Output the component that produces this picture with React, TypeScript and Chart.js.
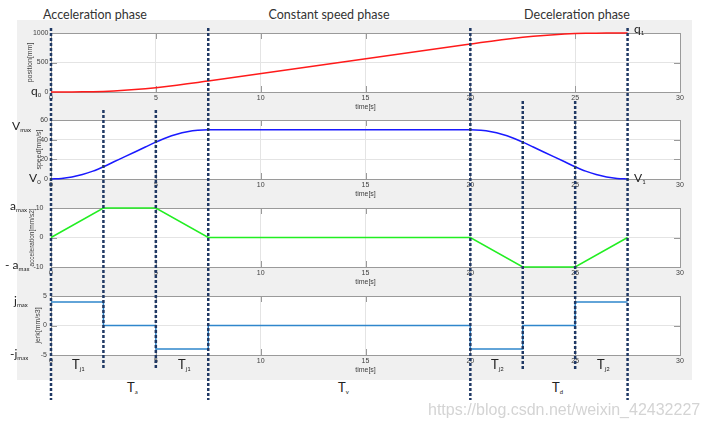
import React, { useEffect, useRef } from "react";
import { Chart, registerables } from "chart.js";

Chart.register(...registerables);

// ---------- data ----------
const timeTicks = [0, 5, 10, 15, 20, 25, 30];
const curveTimes = [
  0, 0.5, 1, 1.5, 2, 2.5, 3, 3.5, 4, 4.5, 5, 5.5, 6, 6.5, 7, 7.5,
  20, 20.5, 21, 21.5, 22, 22.5, 23, 23.5, 24, 24.5, 25, 25.5, 26, 26.5, 27, 27.5,
];
const positionMm = [
  0, 0.08, 0.67, 2.25, 5.33, 10.42, 17.92, 27.92, 40.42, 55.42, 72.92, 92.83, 114.75, 138.17, 162.58, 187.5,
  812.5, 837.42, 861.83, 885.25, 907.17, 927.08, 944.58, 959.58, 972.08, 982.08, 989.58, 994.67, 997.75, 999.33, 999.92, 1000,
];
const speedMms = [
  0, 0.5, 2, 4.5, 8, 12.5, 17.5, 22.5, 27.5, 32.5, 37.5, 42, 45.5, 48, 49.5, 50,
  50, 49.5, 48, 45.5, 42, 37.5, 32.5, 27.5, 22.5, 17.5, 12.5, 8, 4.5, 2, 0.5, 0,
];
const knotTimes = [0, 2.5, 5, 7.5, 20, 22.5, 25, 27.5];
const accelMms2 = [0, 10, 10, 0, 0, -10, -10, 0];
const jerkMms3 = [4, 0, -4, 0, -4, 0, 4, 4];

// ---------- layout / style ----------
const CANVAS_W = 675;
const CANVAS_H = 86;
const PAD_TOP = 5;
const AXIS_W = 34;
const AXIS_H = 22;
const TICK_FONT = { family: "'Liberation Sans', Arial, sans-serif", size: 7 };
const TICK_COLOR = "#404040";

const dashTop = [28, 110, 110, 28, 28, 101, 101, 28];
const dashBottom = [400, 370, 370, 400, 400, 370, 370, 400];

type Sub = {
  top: number;
  title: string;
  min: number;
  max: number;
  step: number;
  color: string;
  titlePad: number;
  titleSize: number;
  tickPad: number;
  xs: number[];
  ys: number[];
  smooth?: boolean;
  stepped?: boolean;
};

const subplots: Sub[] = [
  { top: 33, title: "position[mm]", min: 0, max: 1000, step: 500, color: "#ff1a1a", titlePad: 8.8, titleSize: 7, tickPad: 2.5, xs: curveTimes, ys: positionMm, smooth: true },
  { top: 120, title: "speed[mm/s]", min: 0, max: 60, step: 20, color: "#1a1aff", titlePad: 17.8, titleSize: 7, tickPad: 3, xs: curveTimes, ys: speedMms, smooth: true },
  { top: 208, title: "acceleration[mm/s2]", min: -10, max: 10, step: 10, color: "#22ee22", titlePad: 11.1, titleSize: 6.5, tickPad: 7.5, xs: knotTimes, ys: accelMms2 },
  { top: 296, title: "jerk[mm/s3]", min: -5, max: 5, step: 5, color: "#2f86cc", titlePad: 16.8, titleSize: 7, tickPad: 4, xs: knotTimes, ys: jerkMms3, stepped: true },
];

const framePlugin = {
  id: "frame",
  beforeDraw(chart: any) {
    const { ctx, chartArea } = chart;
    const { left, top, right, bottom } = chartArea;
    ctx.save();
    ctx.fillStyle = "#ffffff";
    ctx.fillRect(left, top, right - left, bottom - top);
    ctx.restore();
  },
  beforeDatasetsDraw(chart: any) {
    const { ctx, chartArea, scales } = chart;
    const { left, top, right, bottom } = chartArea;
    ctx.save();
    ctx.strokeStyle = "#9a9a9a";
    ctx.lineWidth = 1;
    ctx.beginPath();
    const tl = 6;
    scales.x.ticks.forEach((t: any) => {
      const px = Math.round(scales.x.getPixelForValue(t.value)) + 0.5;
      ctx.moveTo(px, bottom);
      ctx.lineTo(px, bottom - tl);
      ctx.moveTo(px, top);
      ctx.lineTo(px, top + tl);
    });
    scales.y.ticks.forEach((t: any) => {
      const py = Math.round(scales.y.getPixelForValue(t.value)) + 0.5;
      ctx.moveTo(left, py);
      ctx.lineTo(left + tl, py);
      ctx.moveTo(right, py);
      ctx.lineTo(right - tl, py);
    });
    ctx.stroke();
    ctx.strokeRect(Math.round(left) + 0.5, Math.round(top) + 0.5, Math.round(right - left), Math.round(bottom - top));
    ctx.restore();
  },
};

function makeConfig(sp: Sub): any {
  return {
    type: "line",
    data: {
      datasets: [
        {
          data: sp.xs.map((x, i) => ({ x, y: sp.ys[i] })),
          borderColor: sp.color,
          borderWidth: 1.5,
          pointRadius: 0,
          fill: false,
          tension: sp.smooth ? 0.4 : 0,
          cubicInterpolationMode: sp.smooth ? "monotone" : "default",
          stepped: sp.stepped ? true : false,
          clip: 2,
        },
      ],
    },
    options: {
      animation: false,
      responsive: false,
      maintainAspectRatio: false,
      layout: { padding: { top: PAD_TOP, right: 12, left: 0, bottom: 0 } },
      plugins: { legend: { display: false }, tooltip: { enabled: false } },
      scales: {
        x: {
          type: "linear",
          min: 0,
          max: 30,
          afterBuildTicks: (s: any) => {
            s.ticks = timeTicks.map((v) => ({ value: v }));
          },
          ticks: {
            font: TICK_FONT,
            color: TICK_COLOR,
            padding: 2,
            maxRotation: 0,
            autoSkip: false,
            callback: (v: any) => String(v),
          },
          grid: { color: "#e4e4e4", drawTicks: false },
          border: { display: false },
          title: { display: true, text: "time[s]", font: TICK_FONT, color: TICK_COLOR, padding: { top: 0, bottom: 2.5 } },
          afterFit: (s: any) => {
            s.height = AXIS_H;
            s.paddingLeft = 0;
            s.paddingRight = 0;
          },
        },
        y: {
          type: "linear",
          min: sp.min,
          max: sp.max,
          ticks: {
            stepSize: sp.step,
            font: TICK_FONT,
            color: TICK_COLOR,
            padding: sp.tickPad,
            callback: (v: any) => String(v),
          },
          grid: { color: "#e4e4e4", drawTicks: false },
          border: { display: false },
          title: {
            display: true,
            text: sp.title,
            font: { family: TICK_FONT.family, size: sp.titleSize },
            color: TICK_COLOR,
            padding: { top: sp.titlePad, bottom: 0 },
          },
          afterFit: (s: any) => {
            s.width = AXIS_W;
            s.paddingTop = 0;
            s.paddingBottom = 0;
          },
        },
      },
    },
    plugins: [framePlugin],
  };
}

function overlayConfig(): any {
  return {
    type: "line",
    data: {
      datasets: knotTimes.map((t, i) => ({
        data: [
          { x: t, y: dashTop[i] },
          { x: t, y: dashBottom[i] },
        ],
        borderColor: "#1f3864",
        borderWidth: 2.5,
        borderDash: [3, 2],
        borderCapStyle: "butt",
        pointRadius: 0,
        clip: false,
      })),
    },
    options: {
      animation: false,
      responsive: false,
      maintainAspectRatio: false,
      layout: { padding: { left: 51, right: 29, top: 0, bottom: 0 } },
      plugins: { legend: { display: false }, tooltip: { enabled: false } },
      scales: {
        x: { type: "linear", min: 0, max: 30, display: false },
        y: { type: "linear", min: 0, max: 429, reverse: true, display: false },
      },
    },
  };
}

const LABEL_FONT = "Lato, 'Open Sans', sans-serif";

function Sym({ main, sub, left, cy, size = 12, pre = "" }: { main: string; sub: string; left: number; cy: number; size?: number; pre?: string }) {
  return (
    <div
      style={{
        position: "absolute",
        left,
        top: cy,
        transform: "translateY(-50%)",
        fontFamily: LABEL_FONT,
        fontSize: size,
        lineHeight: "14px",
        color: "#222",
        whiteSpace: "nowrap",
      }}
    >
      {pre}
      {main}
      <span style={{ fontSize: 6, position: "relative", top: 2 }}>{sub}</span>
    </div>
  );
}

function Title({ text, cx, cy }: { text: string; cx: number; cy: number }) {
  return (
    <div
      style={{
        position: "absolute",
        left: cx,
        top: cy,
        transform: "translate(-50%, -50%)",
        fontFamily: LABEL_FONT,
        fontSize: 12.5,
        color: "#333",
        whiteSpace: "nowrap",
        lineHeight: "16px",
      }}
    >
      {text}
    </div>
  );
}

export default function App() {
  const canvasRefs = useRef<(HTMLCanvasElement | null)[]>([]);
  const overlayRef = useRef<HTMLCanvasElement | null>(null);

  useEffect(() => {
    const charts: Chart[] = [];
    subplots.forEach((sp, i) => {
      const c = canvasRefs.current[i];
      if (c) charts.push(new Chart(c, makeConfig(sp)));
    });
    if (overlayRef.current) charts.push(new Chart(overlayRef.current, overlayConfig()));
    return () => {
      charts.forEach((c) => c.destroy());
    };
  }, []);

  return (
    <div
      style={{
        position: "fixed",
        left: 0,
        top: 0,
        width: 709,
        height: 429,
        background: "#ffffff",
        overflow: "hidden",
      }}
    >
      <div style={{ position: "absolute", left: 17, top: 20, width: 675, height: 360, background: "#f0f0f0" }} />
      {subplots.map((sp, i) => (
        <canvas
          key={i}
          ref={(el) => {
            canvasRefs.current[i] = el;
          }}
          width={CANVAS_W}
          height={CANVAS_H}
          style={{ position: "absolute", left: 17, top: sp.top - PAD_TOP, width: CANVAS_W, height: CANVAS_H }}
        />
      ))}

      <Title text="Acceleration phase" cx={95} cy={15} />
      <Title text="Constant speed phase" cx={329} cy={15} />
      <Title text="Deceleration phase" cx={577} cy={15} />

      <Sym main="q" sub="0" left={31} cy={92} />
      <Sym main="V" sub="max" left={12} cy={127} />
      <Sym main="V" sub="0" left={29} cy={179} />
      <Sym main="a" sub="max" left={10} cy={207} />
      <Sym pre="- " main="a" sub="max" left={5} cy={266} />
      <Sym main="j" sub="max" left={14} cy={302} />
      <Sym pre="-" main="j" sub="max" left={10} cy={355} />
      <Sym main="q" sub="1" left={634} cy={30} />
      <Sym main="V" sub="1" left={634} cy={179} />

      <Sym main="T" sub="j1" left={72} cy={365} size={13} />
      <Sym main="T" sub="j1" left={178} cy={365} size={13} />
      <Sym main="T" sub="j2" left={491} cy={365} size={13} />
      <Sym main="T" sub="j2" left={597} cy={365} size={13} />
      <Sym main="T" sub="a" left={127} cy={388} size={13} />
      <Sym main="T" sub="v" left={338} cy={388} size={13} />
      <Sym main="T" sub="d" left={552} cy={388} size={13} />

      <canvas
        ref={overlayRef}
        width={709}
        height={429}
        style={{ position: "absolute", left: 0, top: 0, width: 709, height: 429, pointerEvents: "none" }}
      />

      <div
        style={{
          position: "absolute",
          left: 428,
          top: 410,
          transform: "translateY(-50%)",
          fontFamily: "'Liberation Sans', Arial, sans-serif",
          fontSize: 16,
          color: "#d4d4d4",
          whiteSpace: "nowrap",
          lineHeight: "18px",
        }}
      >
        https://blog.csdn.net/weixin_42432227
      </div>
    </div>
  );
}
